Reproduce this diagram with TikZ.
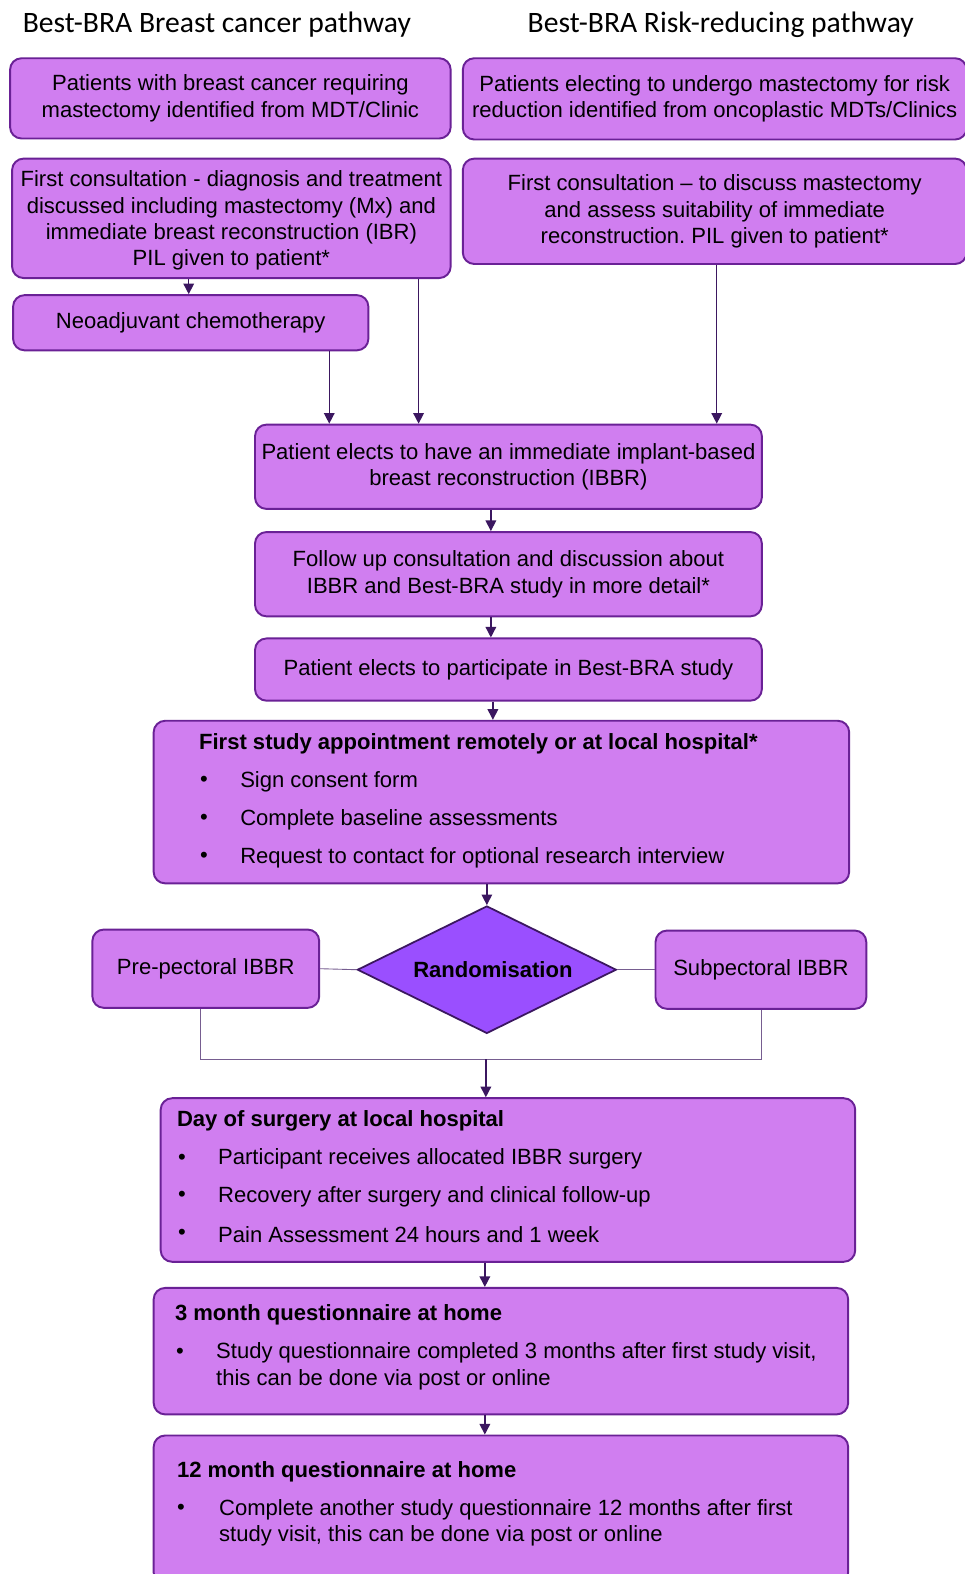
\documentclass[tikz,border=0pt]{standalone}
\usepackage{fontspec}
\setmainfont{Liberation Sans}
\newfontfamily\headfont{Carlito}
\usetikzlibrary{arrows.meta,shapes.geometric}
\definecolor{boxfill}{HTML}{D07EF0}
\definecolor{boxline}{HTML}{6A2196}
\definecolor{diafill}{HTML}{9A4FFF}
\definecolor{arrowcol}{HTML}{3B1760}
\frenchspacing
\begin{document}
\begin{tikzpicture}[x=0.02cm, y=-0.02cm,
	box/.style={draw=boxline, line width=1.1pt, fill=boxfill, rounded corners=6.5pt,
		inner sep=0pt, align=center, font=\fontsize{12.5}{14.9}\selectfont},
	arr/.style={draw=arrowcol, line width=0.8pt, -{Triangle[length=6pt,width=6pt]}},
	lnk/.style={draw=arrowcol!70, line width=0.5pt},
	hd/.style={font=\headfont\fontsize{16.8}{19}\selectfont},
	txt/.style={anchor=west, inner sep=0pt, align=left, font=\fontsize{12.5}{14.9}\selectfont}]
	\useasboundingbox[fill=white] (0,0) rectangle (961,1568);
	% headings
	\node[hd] (hleft) at (216,25) {Best-BRA Breast cancer pathway};
	\node[hd] (hright) at (718,25) {Best-BRA Risk-reducing pathway};
	% two pathways
	\node[box, minimum width=8.78cm, minimum height=1.6cm] (a1) at (229.5,98) {Patients with breast cancer requiring\\mastectomy identified from MDT/Clinic};
	\node[box, minimum width=10.04cm, minimum height=1.62cm] (b1) at (712,98.5) {Patients electing to undergo mastectomy for risk\\reduction identified from oncoplastic MDTs/Clinics};
	\node[box, minimum width=8.74cm, minimum height=2.38cm, text depth=-1pt] (a2) at (230.5,217.5) {First consultation - diagnosis and treatment\\discussed including mastectomy (Mx) and\\immediate breast reconstruction (IBR)\\PIL given to patient*};
	\node[box, minimum width=10.04cm, minimum height=2.1cm] (b2) at (712,210.5) {First consultation -- to discuss mastectomy\\and assess suitability of immediate\\reconstruction. PIL given to patient*};
	\node[box, minimum width=7.08cm, minimum height=1.1cm] (neo) at (190,321.5) {Neoadjuvant chemotherapy};
	% common pathway
	\node[box, minimum width=10.1cm, minimum height=1.68cm] (ibbr) at (506.5,465) {Patient elects to have an immediate implant-based\\breast reconstruction (IBBR)};
	\node[box, minimum width=10.1cm, minimum height=1.68cm] (follow) at (506.5,572) {Follow up consultation and discussion about\\IBBR and Best-BRA study in more detail*};
	\node[box, minimum width=10.1cm, minimum height=1.24cm] (part) at (506.5,667) {Patient elects to participate in Best-BRA study};
	\node[box, minimum width=13.86cm, minimum height=3.24cm] (study) at (499.5,799) {};
	\node[txt] (studyhd) at (198,741) {\textbf{First study appointment remotely or at local hospital*}};
	\foreach \t [count=\i] in {Sign consent form, Complete baseline assessments, Request to contact for optional research interview} {
		\node[txt] (sb\i) at (199,741+37.7*\i) {•};
		\node[txt] (st\i) at (239,741+37.7*\i) {\t};
	}
	% randomisation
	\node[draw=arrowcol, line width=1pt, fill=diafill, diamond, inner sep=0pt, minimum width=5.16cm, minimum height=2.54cm] (rand) at (485,966) {};
	\node[txt, anchor=center] (randtxt) at (491,966) {\textbf{Randomisation}};
	\node[box, minimum width=4.52cm, minimum height=1.56cm] (pre) at (205,965) {Pre-pectoral IBBR};
	\node[box, minimum width=4.2cm, minimum height=1.56cm] (sub) at (758,966) {Subpectoral IBBR};
	% surgery and follow-up
	\node[box, minimum width=13.84cm, minimum height=3.26cm] (day) at (506,1175.5) {};
	\node[txt] (dayhd) at (176,1117) {\textbf{Day of surgery at local hospital}};
	\foreach \t [count=\i] in {Participant receives allocated IBBR surgery, Recovery after surgery and clinical follow-up, Pain Assessment 24 hours and 1 week} {
		\node[txt] (db\i) at (177,1117+37.5*\i) {•};
		\node[txt] (dt\i) at (217,1117+37.5*\i) {\t};
	}
	\node[box, minimum width=13.84cm, minimum height=2.52cm] (three) at (499,1346) {};
	\node[txt] (threehd) at (174,1310) {\textbf{3 month questionnaire at home}};
	\node[txt] (threeb) at (175,1348) {•};
	\node[txt] (threet) at (215,1361) {Study questionnaire completed 3 months after first study visit,\\this can be done via post or online};
	\node[box, minimum width=13.84cm, minimum height=2.96cm] (twelve) at (499,1504) {};
	\node[txt] (twelvehd) at (176,1466) {\textbf{12 month questionnaire at home}};
	\node[txt] (twelveb) at (176,1504) {•};
	\node[txt] (twelvet) at (218,1517) {Complete another study questionnaire 12 months after first\\study visit, this can be done via post or online};
	% connectors
	\draw[arr] (a2.south -| 188,0) -- (neo.north -| 188,0);
	\draw[arr] (neo.south -| 328,0) -- (ibbr.north -| 328,0);
	\draw[arr] (a2.south -| 417,0) -- (ibbr.north -| 417,0);
	\draw[arr] (b2.south -| 714,0) -- (ibbr.north -| 714,0);
	\draw[arr] (ibbr.south -| 489,0) -- (follow.north -| 489,0);
	\draw[arr] (follow.south -| 489,0) -- (part.north -| 489,0);
	\draw[arr] (part.south -| 491,0) -- (study.north -| 491,0);
	\draw[arr] (study.south -| 485,0) -- (rand.north);
	\draw[lnk] (pre.east) -- (rand.west);
	\draw[lnk] (rand.east) -- (sub.west);
	\coordinate (join) at (484,1055);
	\draw[lnk] (pre.south -| 200,0) |- (join) -| (sub.south -| 759,0);
	\draw[arr] (join) -- (day.north -| join);
	\draw[arr] (day.south -| 483,0) -- (three.north -| 483,0);
	\draw[arr] (three.south -| 483,0) -- (twelve.north -| 483,0);
\end{tikzpicture}
\end{document}
